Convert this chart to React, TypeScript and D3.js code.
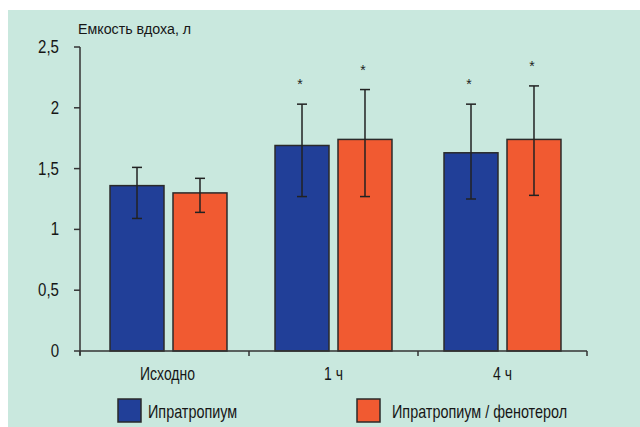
import React, { useEffect, useRef } from 'react';
import * as d3 from 'd3';

const categories = ['Исходно', '1 ч', '4 ч'];
const seriesNames = ['Ипратропиум', 'Ипратропиум / фенотерол'];
const seriesColors = ['#213f98', '#f15a31'];

// mean values, l
const ipratropium = [1.36, 1.69, 1.63];
const ipratropiumLow = [1.09, 1.27, 1.25];
const ipratropiumHigh = [1.51, 2.03, 2.03];
const ipratropiumSig = [false, true, true];

const fenoterol = [1.30, 1.74, 1.74];
const fenoterolLow = [1.14, 1.27, 1.28];
const fenoterolHigh = [1.42, 2.15, 2.18];
const fenoterolSig = [false, true, true];

const yTicks = [0, 0.5, 1, 1.5, 2, 2.5];
const yTickLabels = ['0', '0,5', '1', '1,5', '2', '2,5'];
const yTitle = 'Емкость вдоха, л';

const FONT = '"Liberation Sans", Arial, sans-serif';

export default function App() {
  const ref = useRef<SVGSVGElement>(null);

  useEffect(() => {
    const svg = d3.select(ref.current);
    svg.selectAll('*').remove();

    const width = 640, height = 427;
    const axisColor = '#333';
    const textColor = '#161616';

    // condensed-looking text: squeeze horizontally
    const label = (x: number, yy: number, s: string, size: number, anchor: string, sx: number) => {
      svg.append('g')
        .attr('transform', `translate(${x},${yy}) scale(${sx},1)`)
        .append('text')
        .attr('text-anchor', anchor)
        .attr('font-family', FONT).attr('font-size', size)
        .attr('fill', textColor)
        .text(s);
    };

    svg.append('rect')
      .attr('x', 8).attr('y', 10)
      .attr('width', width - 8).attr('height', height - 10)
      .attr('fill', '#c9e8de');

    const x0 = d3.scaleBand<string>().domain(categories).range([80, 587]);
    const x1 = d3.scaleBand<string>().domain(seriesNames)
      .range([0, x0.bandwidth()]).paddingInner(0.143).paddingOuter(0.413);
    const y = d3.scaleLinear().domain([0, 2.5]).range([351, 47]);

    const series = [
      { name: seriesNames[0], color: seriesColors[0], vals: ipratropium, lo: ipratropiumLow, hi: ipratropiumHigh, sig: ipratropiumSig },
      { name: seriesNames[1], color: seriesColors[1], vals: fenoterol, lo: fenoterolLow, hi: fenoterolHigh, sig: fenoterolSig },
    ];

    // bars + error bars
    series.forEach(s => {
      const g = svg.append('g');
      categories.forEach((c, i) => {
        const bx = (x0(c) as number) + (x1(s.name) as number) + (i === 0 ? 4 : 0);
        const bw = x1.bandwidth();
        const cx = bx + bw / 2;
        g.append('rect')
          .attr('x', bx).attr('y', y(s.vals[i]))
          .attr('width', bw).attr('height', y(0) - y(s.vals[i]))
          .attr('fill', s.color)
          .attr('stroke', '#2a2a2a').attr('stroke-width', 1.5);
        g.append('line')
          .attr('x1', cx).attr('x2', cx)
          .attr('y1', y(s.lo[i])).attr('y2', y(s.hi[i]))
          .attr('stroke', '#222').attr('stroke-width', 1.5);
        [s.lo[i], s.hi[i]].forEach(v => {
          g.append('line')
            .attr('x1', cx - 5).attr('x2', cx + 5)
            .attr('y1', y(v)).attr('y2', y(v))
            .attr('stroke', '#222').attr('stroke-width', 1.5);
        });
        if (s.sig[i]) {
          g.append('text')
            .attr('x', cx - 2).attr('y', y(s.hi[i]) - 15)
            .attr('text-anchor', 'middle')
            .attr('font-family', FONT).attr('font-size', 14)
            .attr('fill', '#222')
            .text('*');
        }
      });
    });

    // y axis
    svg.append('line')
      .attr('x1', 80).attr('x2', 80).attr('y1', y(2.5)).attr('y2', y(0) + 4)
      .attr('stroke', axisColor).attr('stroke-width', 1.5);
    yTicks.forEach((t, i) => {
      svg.append('line')
        .attr('x1', 74).attr('x2', 80).attr('y1', y(t)).attr('y2', y(t))
        .attr('stroke', axisColor).attr('stroke-width', 1.5);
      label(59, y(t) + 6, yTickLabels[i], 17.5, 'end', 0.86);
    });
    label(78, 34, yTitle, 15, 'start', 0.95);

    // x axis
    svg.append('line')
      .attr('x1', 80).attr('x2', 587).attr('y1', y(0)).attr('y2', y(0))
      .attr('stroke', axisColor).attr('stroke-width', 1.5);
    const bounds = categories.map(c => x0(c) as number).concat([587]);
    bounds.forEach(b => {
      svg.append('line')
        .attr('x1', b).attr('x2', b).attr('y1', y(0)).attr('y2', y(0) + 5)
        .attr('stroke', axisColor).attr('stroke-width', 1.5);
    });
    categories.forEach((c, i) => {
      label((x0(c) as number) + x0.bandwidth() / 2 + (i === 0 ? 3 : 0), 380, c, 18, 'middle', 0.775);
    });

    // legend
    const legendX = [118, 357];
    const legendTextX = [148, 392];
    series.forEach((s, i) => {
      svg.append('rect')
        .attr('x', legendX[i]).attr('y', 399)
        .attr('width', 23).attr('height', 23)
        .attr('fill', s.color)
        .attr('stroke', '#2a2a2a').attr('stroke-width', 1.5);
      label(legendTextX[i], 418, s.name, 18, 'start', 0.8);
    });
  }, []);

  return (
    <svg ref={ref} width={640} height={427}
      style={{ position: 'absolute', left: 0, top: 0, display: 'block' }} />
  );
}
